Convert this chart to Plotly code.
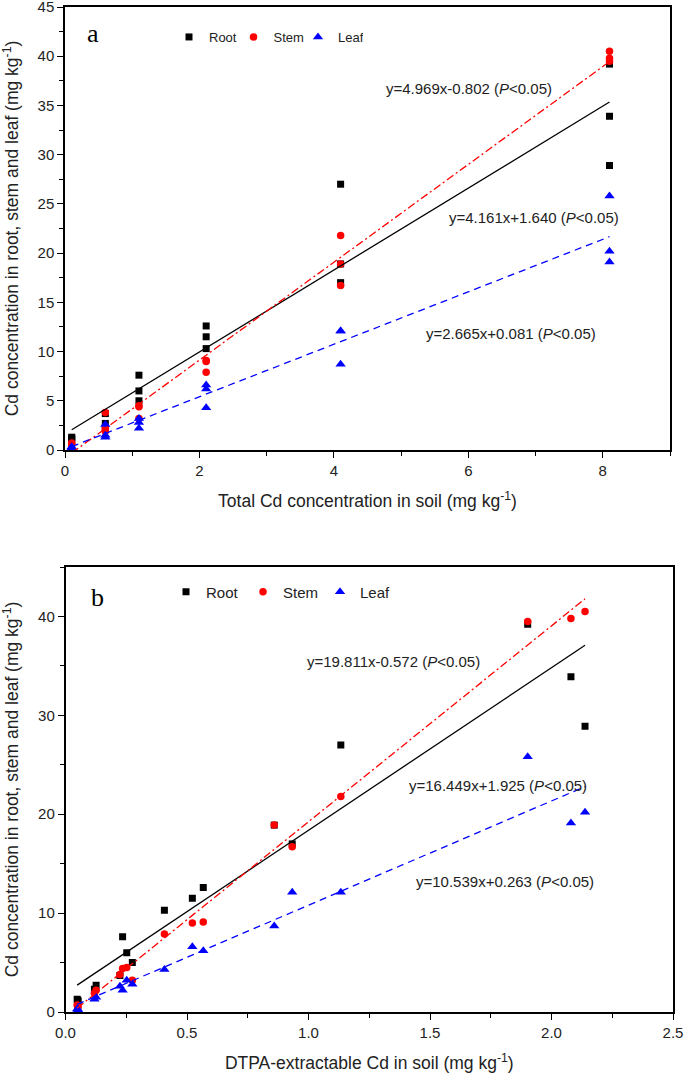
import plotly.graph_objects as go

# ---------------- data ----------------
total_cd = [0.1, 0.1, 0.1, 0.6, 0.6, 0.6, 1.1, 1.1, 1.1,
            2.1, 2.1, 2.1, 4.1, 4.1, 4.1, 8.1, 8.1, 8.1]
dtpa_cd = [0.048, 0.050, 0.052, 0.224, 0.126, 0.119, 0.235, 0.252, 0.275,
           0.407, 0.522, 0.567, 0.859, 0.933, 1.133, 1.902, 2.080, 2.138]
root = [1.3, 1.2, 1.1, 3.7, 2.7, 2.3, 7.6, 6.0, 5.0,
        10.3, 11.5, 12.6, 18.9, 17.0, 27.0, 39.2, 33.9, 28.9]
stem = [0.7, 0.6, 0.5, 3.8, 2.2, 1.9, 4.4, 4.5, 3.2,
        7.9, 9.0, 9.1, 18.9, 16.7, 21.8, 39.5, 39.8, 40.5]
leaf = [0.3, 0.3, 0.2, 2.6, 1.5, 1.3, 2.2, 3.2, 2.8,
        4.3, 6.6, 6.2, 8.7, 12.1, 12.1, 25.8, 19.1, 20.2]

series_names = ["Root", "Stem", "Leaf"]
fit_a = {"Root": (4.161, 1.640), "Stem": (4.969, -0.802), "Leaf": (2.665, 0.081)}
fit_b = {"Root": (16.449, 1.925), "Stem": (19.811, -0.572), "Leaf": (10.539, 0.263)}
eq_a = {"Root": "y=4.161x+1.640 (<i>P</i><0.05)",
        "Stem": "y=4.969x-0.802 (<i>P</i><0.05)",
        "Leaf": "y=2.665x+0.081 (<i>P</i><0.05)"}
eq_b = {"Root": "y=16.449x+1.925 (<i>P</i><0.05)",
        "Stem": "y=19.811x-0.572 (<i>P</i><0.05)",
        "Leaf": "y=10.539x+0.263 (<i>P</i><0.05)"}
eq_pos_a = {"Stem": (6.01, 36.7), "Root": (6.98, 23.6), "Leaf": (6.63, 11.8)}
eq_pos_b = {"Stem": (1.35, 35.4), "Root": (1.78, 22.9), "Leaf": (1.81, 13.2)}

values = {"Root": root, "Stem": stem, "Leaf": leaf}
colors = {"Root": "black", "Stem": "red", "Leaf": "blue"}
symbols = {"Root": "square", "Stem": "circle", "Leaf": "triangle-up"}
msize = {"Root": 7, "Stem": 7.5, "Leaf": 9}
dashes = {"Root": "solid", "Stem": "8px,3px,2px,3px", "Leaf": "7px,5px"}

FONT = "Arial, Liberation Sans, sans-serif"
SERIF = "Times New Roman, Liberation Serif, serif"

fig = go.Figure()

for xs, fits, xa, ya, leg in [(total_cd, fit_a, "x", "y", "legend"),
                               (dtpa_cd, fit_b, "x2", "y2", "legend2")]:
    for name in series_names:
        fig.add_trace(go.Scatter(
            x=xs, y=values[name], mode="markers", name=name,
            marker=dict(symbol=symbols[name], color=colors[name], size=msize[name],
                        line=dict(width=0)),
            xaxis=xa, yaxis=ya, legend=leg))
    for name in series_names:
        k, b = fits[name]
        x0, x1 = min(xs), max(xs)
        fig.add_trace(go.Scatter(
            x=[x0, x1], y=[k * x0 + b, k * x1 + b], mode="lines",
            line=dict(color=colors[name], width=1.3, dash=dashes[name]),
            showlegend=False, hoverinfo="skip", xaxis=xa, yaxis=ya))

annotations = []
for name in series_names:
    x, y = eq_pos_a[name]
    annotations.append(dict(x=x, y=y, xref="x", yref="y", text=eq_a[name],
                            xanchor="center", yanchor="middle",
                            showarrow=False, font=dict(size=15, color="#222", family=FONT)))
    x, y = eq_pos_b[name]
    annotations.append(dict(x=x, y=y, xref="x2", yref="y2", text=eq_b[name],
                            xanchor="center", yanchor="middle",
                            showarrow=False, font=dict(size=15, color="#222", family=FONT)))
annotations.append(dict(x=93 / 685, y=1 - 33 / 1078, xref="paper", yref="paper", text="a",
                        xanchor="center", yanchor="middle",
                        showarrow=False, font=dict(size=26, color="black", family=SERIF)))
annotations.append(dict(x=98 / 685, y=1 - 597 / 1078, xref="paper", yref="paper", text="b",
                        xanchor="center", yanchor="middle",
                        showarrow=False, font=dict(size=26, color="black", family=SERIF)))

ytitle = "Cd concentration in root, stem and leaf (mg kg<sup>-1</sup>)"
TITLE_FONT = dict(size=17.5, family=FONT, color="#222")
axis_common = dict(showline=True, linecolor="black", linewidth=1.5, mirror=True,
                   ticks="outside", ticklen=6, tickwidth=1.3, tickcolor="black",
                   showgrid=False, zeroline=False, automargin=False,
                   ticklabeloverflow="allow",
                   tickfont=dict(size=15, family=FONT, color="#222"))

fig.update_layout(
    width=685, height=1078,
    margin=dict(l=0, r=0, t=0, b=0),
    paper_bgcolor="white", plot_bgcolor="white",
    font=dict(family=FONT, color="#222"),
    xaxis=dict(domain=[65 / 685, 670 / 685], anchor="y", range=[0, 9], dtick=2, tick0=0,
               minor=dict(dtick=1, ticks="outside", ticklen=4, tickcolor="black"),
               title=dict(text="Total Cd concentration in soil (mg kg<sup>-1</sup>)",
                          font=TITLE_FONT, standoff=17),
               **axis_common),
    yaxis=dict(domain=[628 / 1078, 1071 / 1078], anchor="x", range=[0, 45], dtick=5, tick0=0,
               minor=dict(dtick=2.5, ticks="outside", ticklen=4, tickcolor="black"),
               title=dict(text=ytitle, font=TITLE_FONT, standoff=16),
               **axis_common),
    xaxis2=dict(domain=[65.5 / 685, 673 / 685], anchor="y2", range=[0, 2.5], dtick=0.5, tick0=0,
                tickformat=".1f",
                minor=dict(dtick=0.25, ticks="outside", ticklen=4, tickcolor="black"),
                title=dict(text="DTPA-extractable Cd in soil (mg kg<sup>-1</sup>)",
                           font=TITLE_FONT, standoff=17),
                **axis_common),
    yaxis2=dict(domain=[66 / 1078, 511 / 1078], anchor="x2", range=[0, 45], dtick=10, tick0=0,
                minor=dict(dtick=5, ticks="outside", ticklen=4, tickcolor="black"),
                title=dict(text=ytitle, font=TITLE_FONT, standoff=16),
                **axis_common),
    legend=dict(orientation="h", x=169 / 685, y=1 - 37 / 1078, xanchor="left", yanchor="middle",
                bgcolor="rgba(0,0,0,0)", font=dict(size=13, family=FONT, color="#222"),
                entrywidth=19.5, entrywidthmode="pixels", itemclick=False),
    legend2=dict(orientation="h", x=166 / 685, y=1 - 592 / 1078, xanchor="left", yanchor="middle",
                 bgcolor="rgba(0,0,0,0)", font=dict(size=15, family=FONT, color="#222"),
                 entrywidth=32, entrywidthmode="pixels", itemclick=False),
    annotations=annotations,
)

fig.write_html("out.html", config={"displayModeBar": False},
               post_script="document.body.style.margin='0px';")
